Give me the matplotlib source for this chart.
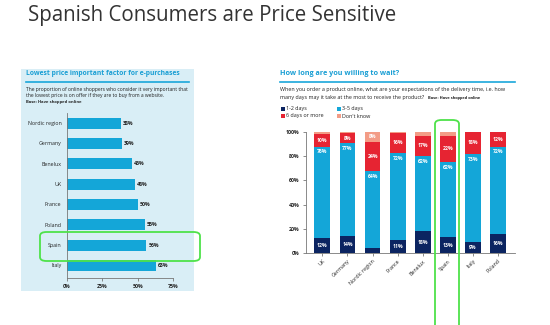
import matplotlib
matplotlib.use("Agg")
import matplotlib.pyplot as plt
from matplotlib.patches import Rectangle, FancyBboxPatch
from matplotlib.lines import Line2D

plt.rcParams['font.family'] = ['Open Sans', 'DejaVu Sans']

# ---------------- data ----------------
left_countries = ["Nordic region", "Germany", "Benelux", "UK", "France", "Poland", "Spain", "Italy"]
left_values = [38, 39, 46, 48, 50, 55, 56, 63]
left_ticks = [0, 25, 50, 75]

right_countries = ["UK", "Germany", "Nordic region", "France", "Benelux", "Spain", "Italy", "Poland"]
days_1_2 = [12, 14, 4, 11, 18, 13, 9, 16]
days_3_5 = [76, 77, 64, 72, 62, 62, 73, 72]
days_6_plus = [10, 8, 24, 16, 17, 22, 18, 12]
dont_know = [2, 1, 8, 1, 3, 3, 0, 0]
series_names = ["1-2 days", "3-5 days", "6 days or more", "Don't know"]
right_ticks = [0, 20, 40, 60, 80, 100]

NAVY = "#0b2461"
CYAN = "#14a6d8"
RED = "#e62432"
SALMON = "#f39c86"
PANEL = "#d9eef6"
GREEN = "#4ee24a"
TXT = "#222222"

W, H = 550, 325
fig = plt.figure(figsize=(W / 100, H / 100), dpi=100)


def fx(x):
    return x / W


def fy(y):
    return 1 - y / H


# title
fig.text(fx(28), fy(16), "Spanish Consumers are Price Sensitive", fontsize=14.8,
         color="#333333", va="center", ha="left")

# ---------------- left panel ----------------
fig.patches.append(Rectangle((fx(21), fy(291)), fx(194) - fx(21), fy(69) - fy(291),
                             transform=fig.transFigure, facecolor=PANEL, edgecolor="none", zorder=-5))
fig.text(fx(26), fy(74), "Lowest price important factor for e-purchases", fontsize=4.9,
         fontweight="bold", color="#1a9fd4", va="center", ha="left")
fig.lines.append(Line2D([fx(26), fx(189)], [fy(81.5), fy(81.5)], transform=fig.transFigure,
                        color="#1aa7da", lw=1.2))
fig.text(fx(26), fy(89), "The proportion of online shoppers who consider it very important that",
         fontsize=3.65, color=TXT, va="center", ha="left")
fig.text(fx(26), fy(95.5), "the lowest price is on offer if they are to buy from a website.",
         fontsize=3.65, color=TXT, va="center", ha="left")
fig.text(fx(26), fy(102.5), "Base: Have shopped online", fontsize=3.0, fontweight="bold",
         color=TXT, va="center", ha="left")

axL = fig.add_axes([fx(67), fy(278), fx(173) - fx(67), fy(113) - fy(278)])
axL.patch.set_alpha(0)
yl = list(range(len(left_countries)))
axL.barh(yl, left_values, height=0.54, color=CYAN)
for i, v in enumerate(left_values):
    axL.text(v + 1.5, i, f"{v}%", fontsize=3.8, fontweight="bold", color=TXT, va="center", ha="left")
axL.set_xlim(0, 75)
axL.set_ylim(7.62, -0.5)
axL.set_yticks(yl)
axL.set_yticklabels(left_countries, fontsize=3.8, color=TXT)
axL.tick_params(axis="y", length=0, pad=4)
axL.set_xticks(left_ticks)
axL.set_xticklabels([f"{t}%" for t in left_ticks], fontsize=3.8, fontweight="bold", color=TXT)
axL.tick_params(axis="x", length=2.5, width=0.6, color="#777777", pad=2)
for s in ["top", "right"]:
    axL.spines[s].set_visible(False)
axL.spines["left"].set_color("#777777")
axL.spines["bottom"].set_color("#777777")
axL.spines["left"].set_linewidth(0.6)
axL.spines["bottom"].set_linewidth(0.6)

# green highlight (left)
fig.patches.append(FancyBboxPatch((fx(40), fy(261)), fx(200) - fx(40), fy(232) - fy(261),
                                  boxstyle="round,pad=0,rounding_size=0.012",
                                  transform=fig.transFigure, facecolor="none",
                                  edgecolor=GREEN, lw=1.3, zorder=5))

# ---------------- right panel ----------------
fig.text(fx(280), fy(74), "How long are you willing to wait?", fontsize=5.2,
         fontweight="bold", color="#1a9fd4", va="center", ha="left")
fig.lines.append(Line2D([fx(280), fx(515)], [fy(82), fy(82)], transform=fig.transFigure,
                        color="#1aa7da", lw=1.2))
fig.text(fx(280), fy(89.5),
         "When you order a product online, what are your expectations of the delivery time, i.e. how",
         fontsize=3.9, color=TXT, va="center", ha="left")
fig.text(fx(280), fy(98),
         "many days may it take at the most to receive the product?",
         fontsize=3.9, color=TXT, va="center", ha="left")
fig.text(fx(428), fy(98), "Base: Have shopped online", fontsize=2.9, fontweight="bold",
         color=TXT, va="center", ha="left")

colors = [NAVY, CYAN, RED, SALMON]
leg_pos = [(281, 108.5), (337, 108.5), (281, 116), (337, 116)]
for name, c, (lx, ly) in zip(series_names, colors, leg_pos):
    fig.patches.append(Rectangle((fx(lx), fy(ly + 2)), fx(4), 4 / H, transform=fig.transFigure,
                                 facecolor=c, edgecolor="none"))
    fig.text(fx(lx + 5.5), fy(ly), name, fontsize=3.9, color=TXT, va="center", ha="left")

axR = fig.add_axes([fx(306), fy(253), fx(515) - fx(306), fy(132) - fy(253)])
axR.patch.set_alpha(0)
xr = list(range(len(right_countries)))
bw = 0.63
bottom = [0] * len(xr)
series = [days_1_2, days_3_5, days_6_plus, dont_know]
for vals, c in zip(series, colors):
    axR.bar(xr, vals, bottom=bottom, width=bw, color=c)
    bottom = [b + v for b, v in zip(bottom, vals)]

for i in xr:
    a, b, c, d = days_1_2[i], days_3_5[i], days_6_plus[i], dont_know[i]
    if a >= 8:
        axR.text(i, a / 2, f"{a}%", fontsize=3.7, fontweight="bold", color="white", ha="center", va="center")
    axR.text(i, a + b - 4.5, f"{b}%", fontsize=3.7, fontweight="bold", color="white", ha="center", va="center")
    axR.text(i, a + b + c / 2, f"{c}%", fontsize=3.7, fontweight="bold", color="white", ha="center", va="center")
    if d >= 5:
        axR.text(i, a + b + c + d / 2, f"{d}%", fontsize=3.7, fontweight="bold", color="white",
                 ha="center", va="center")

axR.set_xlim(-0.65, 7.67)
axR.set_ylim(0, 100)
axR.set_yticks(right_ticks)
axR.set_yticklabels([f"{t}%" for t in right_ticks], fontsize=3.8, fontweight="bold", color=TXT)
axR.tick_params(axis="y", length=2.5, width=0.6, color="#777777", pad=2)
axR.set_xticks(xr)
axR.set_xticklabels(right_countries, fontsize=3.8, color=TXT, rotation=45, ha="right",
                    rotation_mode="anchor")
axR.tick_params(axis="x", length=2, width=0.6, color="#777777", pad=2)
for s in ["top", "right"]:
    axR.spines[s].set_visible(False)
axR.spines["left"].set_color("#777777")
axR.spines["bottom"].set_color("#777777")
axR.spines["left"].set_linewidth(0.6)
axR.spines["bottom"].set_linewidth(0.6)

# green highlight (right), runs past bottom of image
fig.patches.append(FancyBboxPatch((fx(435), fy(340)), fx(459) - fx(435), fy(120) - fy(340),
                                  boxstyle="round,pad=0,rounding_size=0.012",
                                  transform=fig.transFigure, facecolor="none",
                                  edgecolor=GREEN, lw=1.3, zorder=5))

fig.savefig("out.png", dpi=100)
